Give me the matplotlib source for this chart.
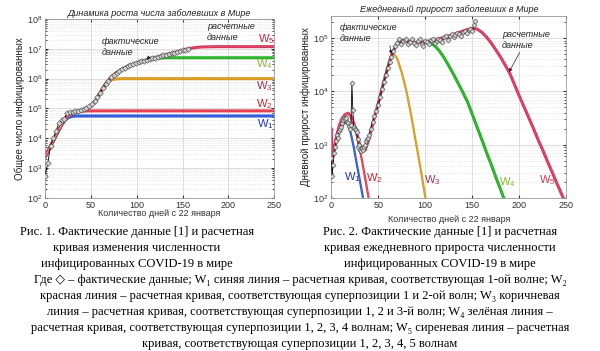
import matplotlib
matplotlib.use("Agg")
import matplotlib.pyplot as plt
import numpy as np

plt.rcParams['font.family'] = ['Liberation Sans', 'DejaVu Sans']
plt.rcParams['mathtext.fontset'] = 'custom'
plt.rcParams['mathtext.rm'] = 'Liberation Sans'
plt.rcParams['mathtext.it'] = 'Liberation Sans:italic'

# ---- Рис. 1: накопленное число заболевших ----
fact_days = [0, 3, 6, 9, 12, 15, 18, 21, 24, 27, 30, 33, 36, 39, 42, 45, 48, 51, 54,
             57, 60, 63, 66, 69, 72, 75, 78, 81, 84, 87, 90, 93, 96, 99, 102, 105,
             108, 111, 114, 117, 120, 123, 126, 129, 132, 135, 138, 141, 144, 147,
             150, 153, 156]
fact_total = [555, 1434, 5578, 9927, 17400, 31500, 40500, 45200, 69000, 73300, 76800,
              79500, 82700, 88400, 95100, 105800, 118600, 145200, 182400, 242700,
              337000, 467700, 660000, 860000, 1100000, 1350000, 1600000, 1850000,
              2050000, 2320000, 2550000, 2800000, 3040000, 3250000, 3500000, 3750000,
              4010000, 4250000, 4540000, 4800000, 5100000, 5400000, 5700000, 6050000,
              6400000, 6700000, 7100000, 7500000, 7900000, 8350000, 8850000, 9300000,
              9800000]

early_days = [0, 3, 6, 9, 12, 15, 18, 21, 24, 27, 30, 33, 36]
w1_early = [2200, 3400, 5200, 8000, 12200, 18500, 27000, 37000, 46000, 51500, 54500, 55700, 56000]
w2_early = [2400, 3600, 5500, 8200, 12500, 19000, 28000, 40000, 52000, 62000, 69000, 74000, 78000]

w1_days = early_days + [250]
w1_total = w1_early + [56000]
w2_days = early_days + [40, 45, 50, 250]
w2_total = w2_early + [81000, 82500, 83000, 83000]
w3_days = early_days + [40, 45, 50, 55, 60, 63, 66, 69, 72, 75, 80, 85, 250]
w3_total = w2_early + [83000, 95000, 120000, 180000, 330000, 470000, 640000, 800000,
                       900000, 960000, 990000, 1000000, 1000000]
w4_days = early_days + [40, 45, 50, 55, 60, 66, 72, 78, 84, 90, 96, 102, 108, 114, 120,
                        126, 132, 140, 250]
w4_total = w2_early + [83000, 95000, 120000, 180000, 330000, 660000, 1100000, 1600000,
                       2050000, 2550000, 3020000, 3500000, 3950000, 4400000, 4720000,
                       4900000, 4970000, 5000000, 5000000]
w5_days = early_days + [40, 45, 50, 55, 60, 66, 72, 78, 84, 90, 96, 102, 108, 114, 120,
                        126, 132, 138, 144, 150, 155, 160, 165, 170, 180, 190, 250]
w5_total = w2_early + [83000, 95000, 120000, 180000, 330000, 660000, 1100000, 1600000,
                       2050000, 2550000, 3020000, 3500000, 3950000, 4500000, 5050000,
                       5650000, 6350000, 7100000, 7900000, 8850000, 9800000, 10500000,
                       11100000, 11450000, 11700000, 11800000, 11800000]

# ---- Рис. 2: ежедневный прирост ----
rate_days = list(range(0, 41)) + list(range(42, 153, 2)) + [153]
fact_rate = [555, 260, 420, 700, 900, 1150, 1500, 1350, 1800, 2000, 2150, 2600, 3000,
             2900, 3200, 3000, 3100, 2700, 2500, 2200, 2000, 2300, 14500, 4500, 2100,
             2000, 1900, 1700, 1300, 900, 1000, 800, 750, 850, 800, 900, 1000, 1150,
             1300, 1350, 1500,
             2000, 2700, 3400, 4200, 5500, 8000, 11000, 15000, 20000, 27000, 35000,
             45000, 58000, 70000, 82000, 95000, 78000, 88000, 92000, 98000, 76000,
             85000, 96000, 80000, 74000, 88000, 95000, 78000, 72000, 90000, 84000,
             76000, 92000, 96000, 82000, 90000, 98000, 92000, 86000, 104000, 108000,
             94000, 110000, 118000, 105000, 112000, 125000, 120000, 110000, 130000,
             138000, 125000, 140000, 150000, 138000, 175000, 210000]

r1_days = [0, 1, 3, 6, 9, 12, 15, 18, 21, 24, 27, 30, 33, 36]
r1_rate = [420, 500, 710, 1200, 1780, 2300, 2630, 2400, 1580, 890, 450, 235, 120, 63]
r2_days = [0, 1, 3, 6, 9, 12, 15, 18, 21, 24, 27, 30, 33, 36, 40]
r2_rate = [500, 520, 830, 1510, 2400, 3160, 3700, 3900, 3400, 2500, 1580, 890, 470, 240, 95]
r3_days = [55, 60, 63, 66, 70, 75, 80, 85, 90, 95, 100, 105]
r3_rate = [13200, 28000, 40000, 52000, 42000, 22400, 10000, 3550, 1120, 355, 105, 32]
r4_days = [95, 100, 105, 110, 115, 120, 125, 130, 135, 140, 145, 150, 155, 160, 165,
           170, 175, 180, 185]
r4_rate = [83000, 85000, 81000, 72000, 57500, 42700, 30200, 20900, 14100, 9550, 6300,
           3700, 2140, 1260, 720, 430, 245, 145, 83]
r5_days = [0, 1, 3, 6, 9, 12, 15, 18, 21, 24, 27, 30, 33, 36, 40, 45, 50, 55, 60, 63,
           66, 70, 75, 80, 85, 90, 95, 100, 105, 110, 115, 120, 125, 130, 135, 140, 145,
           150, 155, 160, 165, 170, 175, 180, 185, 190, 195, 200, 205, 210, 215, 220,
           225, 230, 235, 240, 245, 250]
r5_rate = [2100, 500, 830, 1510, 2400, 3160, 3700, 3900, 3400, 2500, 1660, 1050, 790,
           790, 1260, 2800, 6000, 13200, 28000, 42000, 57000, 79000, 91000, 89000,
           85000, 83000, 83000, 85000, 89000, 93000, 98000, 102000, 110000, 117000,
           126000, 135000, 145000, 151000, 148000, 129000, 105000, 81000, 60000, 44000,
           31000, 21400, 13200, 8100, 5100, 3200, 2000, 1230, 780, 480, 300, 186, 117, 72]

c_blue = '#2a55d8'
c_red = '#e4374a'
c_orange = '#d8981c'
c_green = '#22b022'
c_crimson = '#d6375a'


def calc_line(ax, x, y, color, lw=2.2):
    ax.plot(x, y, color=color, lw=lw, solid_capstyle='butt', zorder=2)
    ax.plot(x, y, color='white', lw=0.5, ls=(0, (1, 2)), alpha=0.45, zorder=2.1)


def fact_line(ax, x, y, ms):
    ax.plot(x, y, color='black', lw=0.6, marker='D', ms=ms, mfc='#d4d4d4',
            mec='#404040', mew=0.4, zorder=3)


def style_axes(ax, ylim, yticks):
    ax.set_yscale('log')
    ax.set_xlim(0, 250)
    ax.set_ylim(*ylim)
    ax.set_xticks([0, 50, 100, 150, 200, 250])
    ax.set_yticks(yticks)
    ax.grid(True, which='major', color='#d8d8d8', lw=0.6)
    ax.grid(True, which='minor', axis='y', color='#d8d8d8', lw=0.5, ls=':')
    ax.tick_params(which='both', direction='in', top=True, right=True,
                   labelsize=6.5, pad=2, colors='#333333', length=2.5)
    ax.tick_params(which='minor', length=1.5)
    for s in ax.spines.values():
        s.set_color('#999999')
        s.set_linewidth(0.6)


fig = plt.figure(figsize=(6, 3.51), dpi=100)
ax1 = fig.add_axes([0.075, 0.436, 0.382, 0.510])
ax2 = fig.add_axes([0.552, 0.436, 0.392, 0.5185])

calc_line(ax1, w1_days, w1_total, c_blue)
calc_line(ax1, w2_days, w2_total, c_red)
calc_line(ax1, w3_days, w3_total, c_orange)
calc_line(ax1, w4_days, w4_total, c_green)
calc_line(ax1, w5_days, w5_total, c_crimson)
fact_line(ax1, fact_days, fact_total, 2.8)
style_axes(ax1, (1e2, 1e8), [1e2, 1e3, 1e4, 1e5, 1e6, 1e7, 1e8])
ax1.set_title('Динамика роста числа заболевших в Мире', fontsize=6.5,
              style='italic', pad=2, color='#222222')
ax1.set_xlabel('Количество дней с 22 января', fontsize=6.5, color='#333333')
ax1.xaxis.set_label_coords(0.5, -0.06)
ax1.set_ylabel('Общее число инфицированных', fontsize=7, color='#222222', labelpad=1)

calc_line(ax2, r3_days, r3_rate, c_orange, 1.6)
calc_line(ax2, r4_days, r4_rate, c_green, 2.2)
calc_line(ax2, r1_days, r1_rate, c_blue, 1.6)
calc_line(ax2, r2_days, r2_rate, c_red, 1.6)
calc_line(ax2, r5_days, r5_rate, c_crimson, 2.2)
fact_line(ax2, rate_days, fact_rate, 2.6)
style_axes(ax2, (1e2, 2.6e5), [1e2, 1e3, 1e4, 1e5])
ax2.set_title('Ежедневный прирост заболевших в Мире', fontsize=6.5,
              style='italic', pad=3, color='#222222')
ax2.set_xlabel('Количество дней с 22 января', fontsize=6.5, color='#333333')
ax2.xaxis.set_label_coords(0.5, -0.095)
ax2.set_ylabel('Дневной прирост инфицированных', fontsize=7, color='#222222', labelpad=1)

# подписи кривых
lab = dict(fontsize=8, ha='center', va='center')
H = 351
for x, y, t, c in [(266, 39, 'W$_5$', '#d02036'), (264, 64, 'W$_4$', '#8cb43c'),
                   (264, 86, 'W$_3$', '#a0304f'), (264, 104, 'W$_2$', '#d0202a'),
                   (265, 124, 'W$_1$', '#2030c0'),
                   (352, 177, 'W$_1$', '#2030c0'), (374, 178, 'W$_2$', '#d0202a'),
                   (432, 180, 'W$_3$', '#a0304f'), (507, 182, 'W$_4$', '#8cb43c'),
                   (547, 180, 'W$_5$', '#d6375a')]:
    fig.text(x / 600, 1 - y / H, t, color=c, **lab)

note = dict(fontsize=6.5, style='italic', color='#222222', ha='left', va='top',
            linespacing=1.25)
ax1.annotate('фактические\nданные', xy=(111, 4.3e6), xycoords='data',
             xytext=(102, H - 37), textcoords='figure pixels',
             arrowprops=dict(arrowstyle='-|>', color='#222222', lw=0.5,
                             mutation_scale=5, shrinkA=0, shrinkB=0,
                             relpos=(0.85, 0.1)), **note)
fig.text(207 / 600, 1 - 22 / H, 'расчетные\nданные', **note)
ax2.annotate('фактические\nданные', xy=(64, 5e4), xycoords='data',
             xytext=(340, H - 23), textcoords='figure pixels',
             arrowprops=dict(arrowstyle='-|>', color='#222222', lw=0.5,
                             mutation_scale=5, shrinkA=0, shrinkB=0,
                             relpos=(0.85, 0.1)), **note)
ax2.annotate('расчетные\nданные', xy=(189, 2.3e4), xycoords='data',
             xytext=(502, H - 30), textcoords='figure pixels',
             arrowprops=dict(arrowstyle='-|>', color='#222222', lw=0.5,
                             mutation_scale=5, shrinkA=0, shrinkB=0,
                             relpos=(0.4, 0.0)), **note)

# подрисуночные подписи
cap = dict(fontsize=9, ha='center', va='center',
           family=['Liberation Serif', 'DejaVu Serif', 'DejaVu Sans'])
cap_left = ['Рис. 1. Фактические данные [1] и расчетная',
            'кривая изменения численности',
            'инфицированных COVID-19 в мире']
cap_right = ['Рис. 2. Фактические данные [1] и расчетная',
             'кривая ежедневного прироста численности',
             'инфицированных COVID-19 в мире']
cap_bottom = ['Где ◇ – фактические данные; W₁ синяя линия – расчетная кривая, соответствующая 1-ой волне; W₂',
              'красная линия – расчетная кривая, соответствующая суперпозиции 1 и 2-ой волн; W₃ коричневая',
              'линия – расчетная кривая, соответствующая суперпозиции 1, 2 и 3-й волн; W₄ зелёная линия –',
              'расчетная кривая, соответствующая суперпозиции 1, 2, 3, 4 волнам; W₅ сиреневая линия – расчетная',
              'кривая, соответствующая суперпозиции 1, 2, 3, 4, 5 волнам']
for i, t in enumerate(cap_left):
    fig.text(137 / 600, 1 - (232 + 16 * i) / H, t, **cap)
for i, t in enumerate(cap_right):
    fig.text(440 / 600, 1 - (232 + 16 * i) / H, t, **cap)
for i, t in enumerate(cap_bottom):
    fig.text(300 / 600, 1 - (280 + 16 * i) / H, t, **cap)

fig.savefig('out.png', dpi=100)
